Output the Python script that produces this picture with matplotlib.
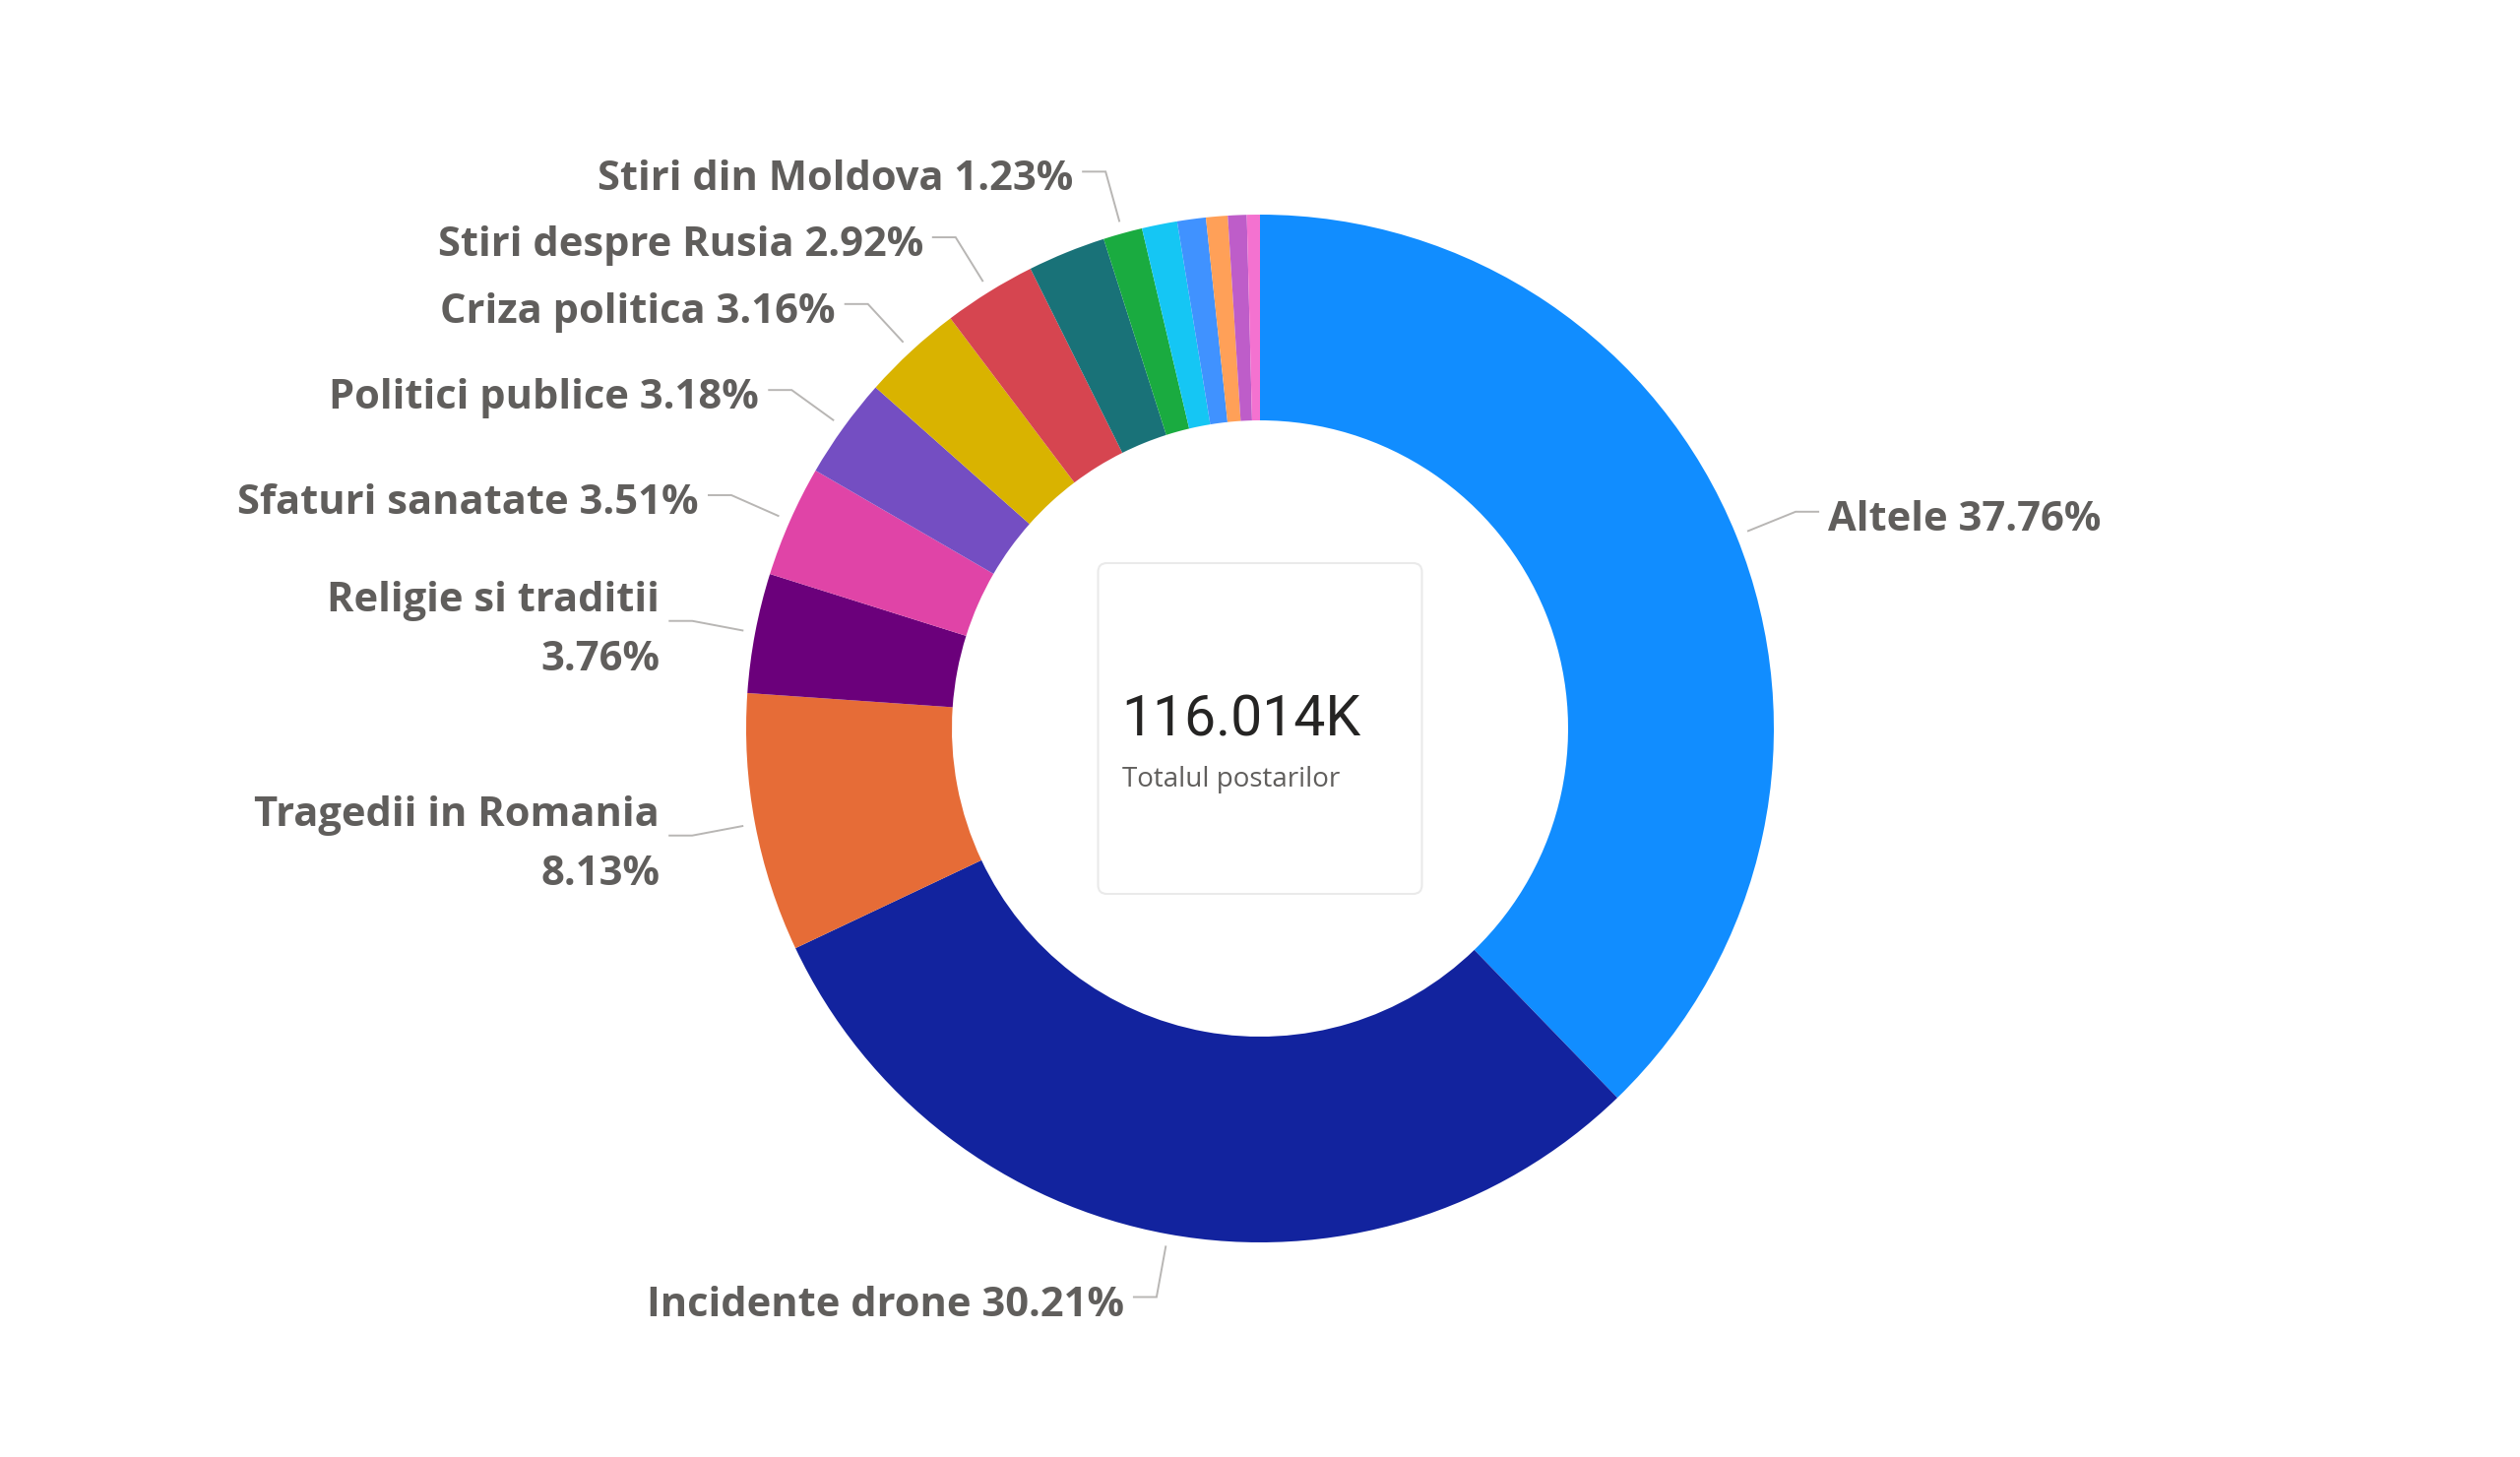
import matplotlib
matplotlib.use("Agg")
import matplotlib.pyplot as plt
from matplotlib.patches import FancyBboxPatch
import numpy as np

# ---------------- data ----------------
categories = [
    "Altele", "Incidente drone", "Tragedii in Romania", "Religie si traditii",
    "Sfaturi sanatate", "Politici publice", "Criza politica", "Stiri despre Rusia",
    "Subiect 9", "Stiri din Moldova", "Subiect 11", "Subiect 12",
    "Subiect 13", "Subiect 14", "Subiect 15",
]
shares = [37.76, 30.21, 8.13, 3.76, 3.51, 3.18, 3.16, 2.92,
          2.45, 1.23, 1.11, 0.90, 0.68, 0.59, 0.41]
show_label = [True, True, True, True, True, True, True, True,
              False, True, False, False, False, False, False]
wrapped = {"Religie si traditii", "Tragedii in Romania"}
colors = ["#118DFF", "#12239E", "#E66C37", "#6B007B", "#E044A7", "#744EC2",
          "#D9B300", "#D64550", "#197278", "#1AAB40", "#15C6F4", "#4092FF",
          "#FFA058", "#BE5DC9", "#F472D0"]
total_value = "116.014K"
total_label = "Totalul postarilor"

# ---------------- layout ----------------
W, H = 2560, 1480
cx, cy = 1280, 740
R, Rin = 522, 313
TEXT_C = "#605E5C"
LINE_C = "#B8B6B4"

fig = plt.figure(figsize=(W / 100, H / 100), dpi=100)
ax = fig.add_axes([0, 0, 1, 1])

ax.pie(shares, colors=colors, startangle=90, counterclock=False,
       radius=R, center=(cx, cy), frame=False,
       wedgeprops=dict(width=R - Rin, linewidth=0, edgecolor="none"))
ax.set_xlim(0, W)
ax.set_ylim(0, H)
ax.set_aspect("equal")
ax.axis("off")

label_font = dict(family=["Open Sans", "DejaVu Sans"], weight="bold",
                  fontsize=30, color=TEXT_C)

cum = np.cumsum([0] + shares[:-1])
for name, v, c0, show in zip(categories, shares, cum, show_label):
    if not show:
        continue
    theta = np.deg2rad(360 * (c0 + v / 2) / 100)
    s, c = np.sin(theta), np.cos(theta)
    p1 = (cx + (R + 13) * s, cy + (R + 13) * c)
    p2 = (cx + (R + 65) * s, cy + (R + 65) * c)
    side = 1 if s > 0 else -1
    p3 = (p2[0] + side * 23, p2[1])
    ax.plot([p1[0], p2[0], p3[0]], [p1[1], p2[1], p3[1]],
            color=LINE_C, lw=1.4, solid_joinstyle="miter", zorder=3)
    tx = p3[0] + side * 10
    ha = "left" if side > 0 else "right"
    pct = f"{v:.2f}%"
    if name in wrapped:
        ax.text(tx, p3[1] + 10, name, ha=ha, va="baseline", **label_font)
        ax.text(tx, p3[1] - 50, pct, ha=ha, va="baseline", **label_font)
    else:
        ax.text(tx, p3[1] - 19, f"{name} {pct}", ha=ha, va="baseline", **label_font)

# center card
card_w, card_h = 329, 336
card = FancyBboxPatch((cx - card_w / 2, cy - card_h / 2), card_w, card_h,
                      boxstyle="round,pad=0,rounding_size=9",
                      facecolor="white", edgecolor="#EAEAEA", lw=1.5, zorder=4)
ax.add_patch(card)
ax.text(cx - 141, cy - 7, total_value, ha="left", va="baseline",
        family=["Roboto", "DejaVu Sans"], weight="normal",
        fontsize=41, color="#252423", zorder=5)
ax.text(cx - 140, cy - 59, total_label, ha="left", va="baseline",
        family=["Open Sans", "DejaVu Sans"], fontsize=20, color=TEXT_C, zorder=5)

fig.savefig("out.png", dpi=100, facecolor="white")
